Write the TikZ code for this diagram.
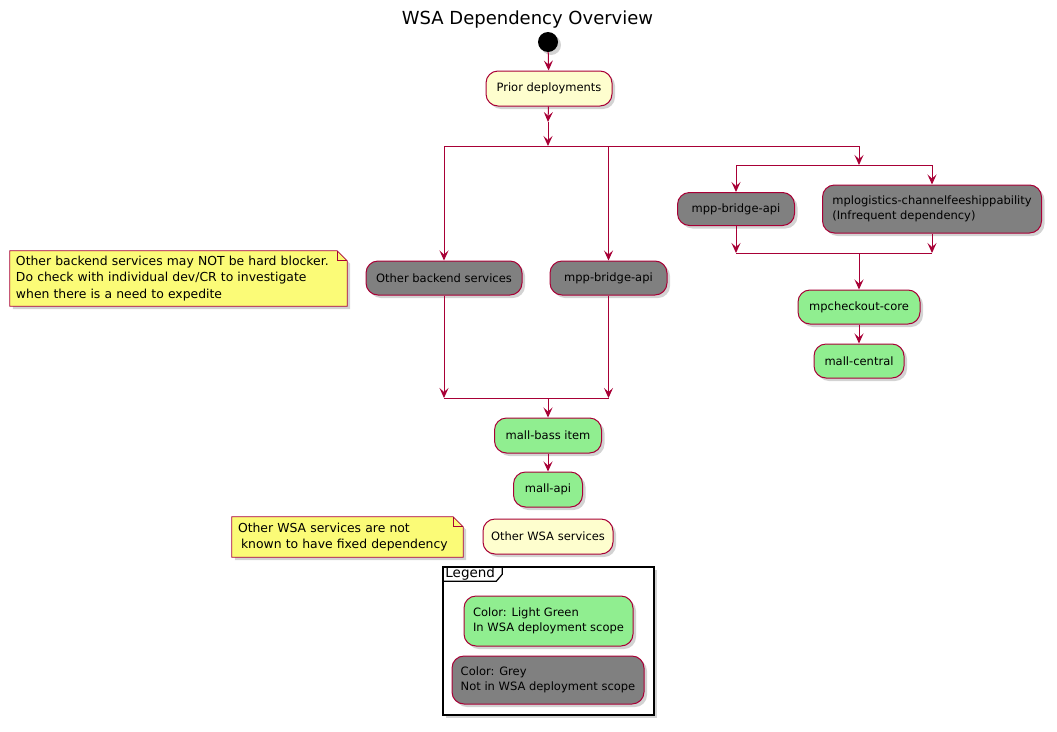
\documentclass[tikz,border=0pt]{standalone}
\usepackage{fontspec}
\setmainfont{DejaVu Sans}
\usetikzlibrary{arrows.meta, shadows, backgrounds}
\definecolor{borderred}{HTML}{A80036}
\definecolor{actionyellow}{HTML}{FEFECE}
\definecolor{noteyellow}{HTML}{FBFB77}
\definecolor{scopegreen}{HTML}{90EE90}
\definecolor{scopegrey}{HTML}{808080}

\begin{document}
\begin{tikzpicture}[x=1pt,y=-1pt]
	\tikzstyle{softshadow} = [drop shadow={shadow xshift=3pt,shadow yshift=-3pt,opacity=0.35}]
	\tikzstyle{action} = [rectangle,rounded corners=12pt,draw=borderred,line width=1pt,fill=actionyellow,inner sep=0pt,align=left,font=\fontsize{11.5}{15}\selectfont,softshadow]
	\tikzstyle{action2} = [action,fill=scopegreen]
	\tikzstyle{action3} = [action,fill=scopegrey]
	\tikzstyle{edge} = [-{Stealth[length=10pt,width=9pt,inset=4pt]},draw=borderred,line width=1pt]
	\tikzstyle{bar} = [-,draw=borderred,line width=1pt]
	\tikzstyle{note} = [inner xsep=6pt,inner ysep=0pt,align=left,font=\fontsize{12.4}{16.5}\selectfont]
	\tikzstyle{notebox} = [draw=borderred,fill=noteyellow,line width=0.8pt,softshadow]
	\useasboundingbox (0,0) rectangle (1057,731);

	\node[font=\fontsize{18}{22}\selectfont] (title) at (527.5,20) {WSA Dependency Overview};
	\node[circle,fill=black,minimum size=20pt,inner sep=0pt,softshadow] (start) at (548,42) {};
	\node[action,minimum width=126pt,minimum height=35pt] (prior) at (549,88.5) {Prior deployments};

	\node[action3,minimum width=156pt,minimum height=34pt] (otherbackend) at (444,278) {Other backend services};
	\node[action3,minimum width=117pt,minimum height=34pt] (bridgeL) at (608.5,278) {mpp-bridge-api};
	\node[action3,minimum width=117pt,minimum height=33pt] (bridgeR) at (736,209) {mpp-bridge-api};
	\node[action3,minimum width=219pt,minimum height=48pt] (logistics) at (932,209) {mplogistics-channelfeeshippability\\(Infrequent dependency)};
	\node[action2,minimum width=122pt,minimum height=34pt] (checkout) at (859,307) {mpcheckout-core};
	\node[action2,minimum width=90pt,minimum height=34pt] (central) at (859,361) {mall-central};

	\node[action2,minimum width=107pt,minimum height=35pt] (bassitem) at (548,435.5) {mall-bass item};
	\node[action2,minimum width=69pt,minimum height=35pt] (mallapi) at (548,489.5) {mall-api};
	\node[action,minimum width=130pt,minimum height=35pt] (otherwsa) at (548,536.5) {Other WSA services};

	% notes
	\node[note,text width=325pt,minimum height=55pt] (note1) at (178.5,278.5) {Other backend services may NOT be hard blocker.\\Do check with individual dev/CR to investigate\\when there is a need to expedite};
	\node[note,text width=219pt,minimum height=40pt] (note2) at (347.5,537) {Other WSA services are not\\\hspace{3pt}known to have fixed dependency};
	\begin{pgfonlayer}{background}
		\foreach \n in {note1,note2} {
			\draw[notebox] (\n.south west) -- (\n.north west) -- ([xshift=-10pt]\n.north east) -- ([yshift=-10pt]\n.north east) -- (\n.south east) -- cycle;
			\draw[draw=borderred,line width=0.8pt] ([xshift=-10pt]\n.north east) |- ([yshift=-10pt]\n.north east);
		}
	\end{pgfonlayer}

	% legend
	\node[draw=black,fill=white,line width=1.5pt,minimum width=211pt,minimum height=148pt,softshadow] (legend) at (548.5,641) {};
	\node[anchor=north west,inner xsep=3pt,inner ysep=1pt,font=\fontsize{13.5}{15}\selectfont] (legendlabel) at (legend.north west) {Legend};
	\draw[black,line width=1.2pt] ([yshift=-15pt]legend.north west) -- ([xshift=54pt,yshift=-15pt]legend.north west) -- ([xshift=60pt,yshift=-8pt]legend.north west) -- ([xshift=60pt]legend.north west);
	\node[action2,minimum width=169pt,minimum height=50pt] (legendgreen) at (548.5,621) {Color: Light Green\\In WSA deployment scope};
	\node[action3,minimum width=192pt,minimum height=48pt] (legendgrey) at (548,680) {Color: Grey\\Not in WSA deployment scope};

	% fork and join points
	\coordinate (mid) at (548,122);
	\coordinate (fork) at (548,146);
	\coordinate (forkL) at (444,146);
	\coordinate (forkM) at (608.5,146);
	\coordinate (forkR) at (859,146);
	\coordinate (fork2) at (859,165);
	\coordinate (fork2L) at (736,165);
	\coordinate (fork2R) at (932,165);
	\coordinate (join2L) at (736,253);
	\coordinate (join2R) at (932,253);
	\coordinate (join2) at (859,253);
	\coordinate (join1L) at (444,398);
	\coordinate (join1R) at (608.5,398);
	\coordinate (join1) at (548,398);

	\draw[edge] (start)--(prior);
	\draw[edge] (prior)--(mid);
	\draw[edge] (mid)--(fork);
	\draw[bar] (forkL)--(forkR);
	\draw[edge] (forkL)--(otherbackend);
	\draw[edge] (forkM)--(bridgeL);
	\draw[edge] (forkR)--(fork2);
	\draw[bar] (fork2L)--(fork2R);
	\draw[edge] (fork2L)--(bridgeR);
	\draw[edge] (fork2R)--(logistics);
	\draw[edge] (bridgeR)--(join2L);
	\draw[edge] (logistics)--(join2R);
	\draw[bar] (join2L)--(join2R);
	\draw[edge] (join2)--(checkout);
	\draw[edge] (checkout)--(central);
	\draw[edge] (otherbackend)--(join1L);
	\draw[edge] (bridgeL)--(join1R);
	\draw[bar] (join1L)--(join1R);
	\draw[edge] (join1)--(bassitem);
	\draw[edge] (bassitem)--(mallapi);
\end{tikzpicture}
\end{document}
